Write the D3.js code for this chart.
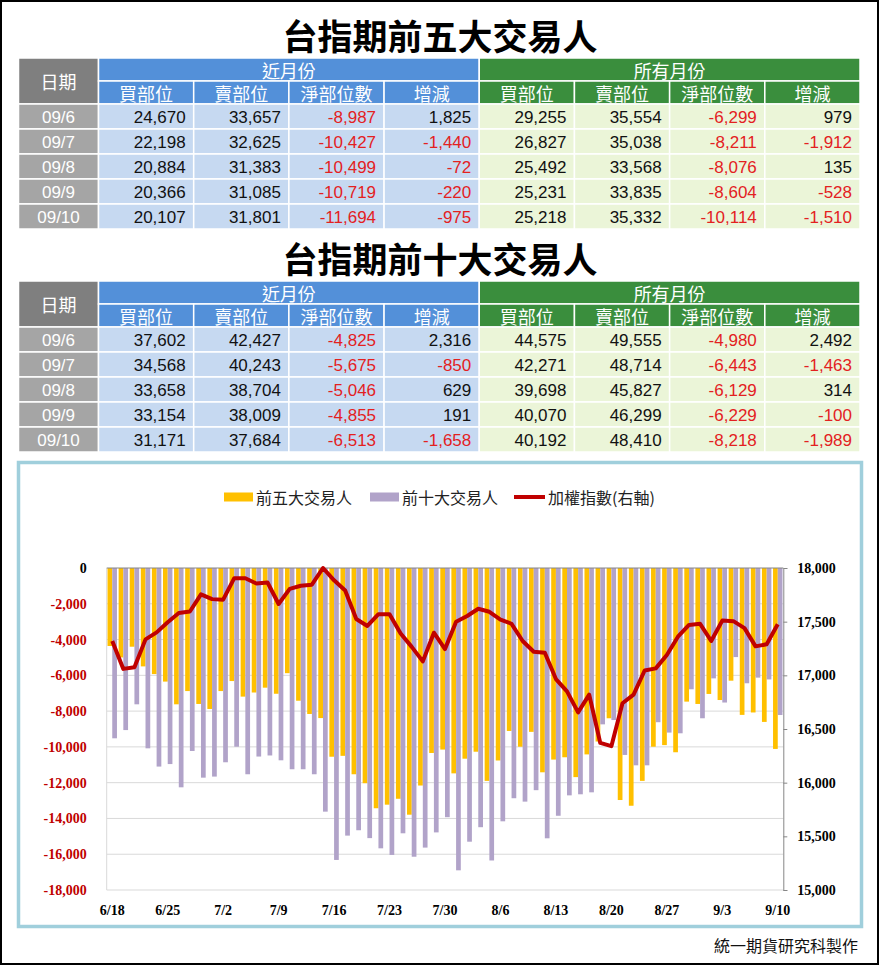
<!DOCTYPE html>
<html>
<head>
<meta charset="utf-8">
<script src="https://cdnjs.cloudflare.com/ajax/libs/d3/7.8.5/d3.min.js"></script>
<style>
  body { margin: 0; background: #fff; }
  svg { display: block; }
</style>
</head>
<body>
<div id="chart"></div>
<script>
// Table data
const tableDates = ['09/6', '09/7', '09/8', '09/9', '09/10'];
const colNames = ['買部位', '賣部位', '淨部位數', '增減'];
const top5Near = [
  [24670, 33657, -8987, 1825],
  [22198, 32625, -10427, -1440],
  [20884, 31383, -10499, -72],
  [20366, 31085, -10719, -220],
  [20107, 31801, -11694, -975]
];
const top5All = [
  [29255, 35554, -6299, 979],
  [26827, 35038, -8211, -1912],
  [25492, 33568, -8076, 135],
  [25231, 33835, -8604, -528],
  [25218, 35332, -10114, -1510]
];
const top10Near = [
  [37602, 42427, -4825, 2316],
  [34568, 40243, -5675, -850],
  [33658, 38704, -5046, 629],
  [33154, 38009, -4855, 191],
  [31171, 37684, -6513, -1658]
];
const top10All = [
  [44575, 49555, -4980, 2492],
  [42271, 48714, -6443, -1463],
  [39698, 45827, -6129, 314],
  [40070, 46299, -6229, -100],
  [40192, 48410, -8218, -1989]
];

// Chart data
const dates = ['6/18','6/21','6/22','6/23','6/24','6/25','6/28','6/29','6/30',
  '7/1','7/2','7/5','7/6','7/7','7/8','7/9','7/12','7/13','7/14','7/15','7/16',
  '7/19','7/20','7/21','7/22','7/23','7/26','7/27','7/28','7/29','7/30',
  '8/2','8/3','8/4','8/5','8/6','8/9','8/10','8/11','8/12','8/13','8/16','8/17',
  '8/18','8/19','8/20','8/23','8/24','8/25','8/26','8/27','8/30','8/31',
  '9/1','9/2','9/3','9/6','9/7','9/8','9/9','9/10'];
const top5Net = [-4360,-5000,-4400,-5500,-5930,-6350,-7620,-6880,-7600,-7880,
  -6880,-6320,-7190,-6960,-6690,-7030,-5880,-7420,-8160,-8390,
  -10550,-10500,-11530,-12030,-13430,-13230,-12900,-13790,-12160,-10340,
  -10150,-11480,-10660,-10270,-11900,-10760,-9110,-9990,-9160,-11420,
  -10710,-10580,-11690,-10420,-9700,-8400,-12970,-13290,-11900,-9990,
  -9900,-10300,-7470,-7600,-7040,-7380,-6299,-8211,-8076,-8604,-10114];
const top10Net = [-9520,-9060,-7620,-10080,-11100,-10960,-12260,-10230,-11720,-11660,
  -10860,-9990,-11530,-10540,-10480,-10750,-11250,-11250,-11530,-13620,
  -16320,-14960,-14660,-15100,-15670,-16040,-14830,-16140,-15630,-14780,
  -13930,-16900,-15300,-14490,-16350,-14160,-12870,-13060,-12420,-15110,
  -13850,-12710,-12650,-12540,-8740,-8500,-10450,-11030,-11030,-8620,
  -9200,-9240,-6780,-8400,-6170,-7520,-4980,-6443,-6129,-6229,-8218];
const taiex = [17320,17060,17075,17335,17400,17495,17580,17595,17755,17710,
  17705,17905,17905,17855,17865,17665,17805,17835,17845,18000,
  17885,17790,17525,17460,17570,17570,17390,17265,17130,17397,
  17245,17500,17553,17620,17592,17520,17480,17320,17220,17210,
  16965,16850,16655,16820,16370,16340,16740,16820,17045,17065,
  17190,17360,17470,17480,17320,17510,17505,17440,17270,17290,17475];
const seriesNames = ['前五大交易人', '前十大交易人', '加權指數(右軸)'];

const cjk = '"Noto Sans CJK TC", "Noto Sans CJK SC", sans-serif';
const serif = '"Liberation Serif", "Times New Roman", serif';
const fmt = v => (v < 0 ? '-' : '') + d3.format(',')(Math.abs(v));

var svg = d3.select('#chart').append('svg')
  .attr('width', 880)
  .attr('height', 966);

svg.append('rect')
  .attr('x', 1).attr('y', 1)
  .attr('width', 877).attr('height', 963)
  .attr('fill', '#fff')
  .attr('stroke', '#000')
  .attr('stroke-width', 2);

// ---------- tables ----------
const cols = d3.scaleBand().domain(d3.range(8)).range([98.5, 860]);

function drawTable(y0, title, near, all) {
  var g = svg.append('g');
  g.append('text')
    .attr('x', 440).attr('y', y0 - 24)
    .attr('text-anchor', 'middle')
    .attr('dominant-baseline', 'central')
    .style('font', 'bold 35px ' + cjk)
    .text(title);

  const h1 = 23, h2 = 23, rh = 25;
  const blue = '#5390d9', green = '#3a8e3d';

  function cell(x, y, w, h, fill) {
    g.append('rect').attr('x', x).attr('y', y).attr('width', w).attr('height', h)
      .attr('fill', fill).attr('stroke', '#fff').attr('stroke-width', 1.5);
  }
  function label(x, y, txt, anchor, font, color) {
    g.append('text').attr('x', x).attr('y', y)
      .attr('text-anchor', anchor)
      .attr('dominant-baseline', 'central')
      .style('font', font)
      .attr('fill', color)
      .text(txt);
  }

  // header
  cell(18.5, y0, 80, h1 + h2, '#7f7f7f');
  label(58.5, y0 + (h1 + h2) / 2, '日期', 'middle', '18px ' + cjk, '#fff');
  cell(cols(0), y0, cols.bandwidth() * 4, h1, blue);
  cell(cols(4), y0, cols.bandwidth() * 4, h1, green);
  label(cols(0) + cols.bandwidth() * 2, y0 + h1 / 2, '近月份', 'middle', '18px ' + cjk, '#fff');
  label(cols(4) + cols.bandwidth() * 2, y0 + h1 / 2, '所有月份', 'middle', '18px ' + cjk, '#fff');
  d3.range(8).forEach(function(i) {
    cell(cols(i), y0 + h1, cols.bandwidth(), h2, i < 4 ? blue : green);
    label(cols(i) + cols.bandwidth() / 2, y0 + h1 + h2 / 2, colNames[i % 4], 'middle', '18px ' + cjk, '#fff');
  });

  // rows
  tableDates.forEach(function(d, r) {
    var y = y0 + h1 + h2 + r * rh;
    cell(18.5, y, 80, rh, '#a5a5a5');
    label(58.5, y + rh / 2 + 1, d, 'middle', '17px "Liberation Sans", Arial, sans-serif', '#fff');
    var vals = near[r].concat(all[r]);
    vals.forEach(function(v, i) {
      cell(cols(i), y, cols.bandwidth(), rh, i < 4 ? '#c6d9f1' : '#ebf5d8');
      label(cols(i) + cols.bandwidth() - 8, y + rh / 2 + 1, fmt(v), 'end',
        '17px "Liberation Sans", Arial, sans-serif', v < 0 ? '#e3211f' : '#111');
    });
  });
}

drawTable(58, '台指期前五大交易人', top5Near, top5All);
drawTable(281, '台指期前十大交易人', top10Near, top10All);

// ---------- chart ----------
svg.append('rect')
  .attr('x', 18.5).attr('y', 462.5)
  .attr('width', 843).attr('height', 464)
  .attr('fill', '#fff')
  .attr('stroke', '#a0cfdc')
  .attr('stroke-width', 3.5);

const pLeft = 106.7, pRight = 783.3, pTop = 568, pBottom = 890;

var x0 = d3.scaleBand().domain(dates).range([pLeft, pRight])
  .paddingInner(0.15).paddingOuter(0.075);
var x1 = d3.scaleBand().domain(['t5', 't10']).range([0, x0.bandwidth()]);
var yL = d3.scaleLinear().domain([-18000, 0]).range([pBottom, pTop]);
var yR = d3.scaleLinear().domain([15000, 18000]).range([pBottom, pTop]);

var plot = svg.append('g');

// gridlines
plot.selectAll('.grid')
  .data(d3.range(-18000, 0, 2000))
  .enter().append('line')
  .attr('x1', pLeft).attr('x2', pRight)
  .attr('y1', d => yL(d)).attr('y2', d => yL(d))
  .attr('stroke', '#d9d9d9').attr('stroke-width', 1);
plot.append('line')
  .attr('x1', pLeft).attr('x2', pLeft)
  .attr('y1', pTop).attr('y2', pBottom)
  .attr('stroke', '#d9d9d9');

// bars
var cat = plot.selectAll('.cat')
  .data(dates)
  .enter().append('g')
  .attr('transform', d => 'translate(' + x0(d) + ',0)');
cat.append('rect')
  .attr('x', x1('t5'))
  .attr('y', yL(0))
  .attr('width', x1.bandwidth())
  .attr('height', (d, i) => yL(top5Net[i]) - yL(0))
  .attr('fill', '#ffc000');
cat.append('rect')
  .attr('x', x1('t10'))
  .attr('y', yL(0))
  .attr('width', x1.bandwidth())
  .attr('height', (d, i) => yL(top10Net[i]) - yL(0))
  .attr('fill', '#b1a3c9');

// zero line
plot.append('line')
  .attr('x1', pLeft).attr('x2', pRight)
  .attr('y1', yL(0)).attr('y2', yL(0))
  .attr('stroke', '#868686');

// index line
var line = d3.line()
  .x((d, i) => x0(dates[i]) + x0.bandwidth() / 2)
  .y(d => yR(d));
plot.append('path')
  .datum(taiex)
  .attr('d', line)
  .attr('fill', 'none')
  .attr('stroke', '#c00000')
  .attr('stroke-width', 4)
  .attr('stroke-linejoin', 'round');

// left axis
var gl = svg.append('g')
  .attr('transform', 'translate(' + pLeft + ',0)')
  .call(d3.axisLeft(yL).tickValues(d3.range(-18000, 1, 2000)).tickSize(0).tickPadding(20).tickFormat(fmt));
gl.select('.domain').remove();
gl.selectAll('text')
  .style('font', 'bold 14px ' + serif)
  .attr('fill', d => d < 0 ? '#c00000' : '#000');

// right axis
var gr = svg.append('g')
  .attr('transform', 'translate(' + pRight + ',0)')
  .call(d3.axisRight(yR).tickValues(d3.range(15000, 18001, 500)).tickSize(4).tickPadding(10).tickFormat(fmt));
gr.select('.domain').attr('stroke', '#868686');
gr.selectAll('line').attr('stroke', '#868686');
gr.selectAll('text')
  .style('font', 'bold 14px ' + serif)
  .attr('fill', '#000');

// x axis
var gx = svg.append('g')
  .attr('transform', 'translate(0,' + pBottom + ')')
  .call(d3.axisBottom(x0).tickValues(dates.filter((d, i) => i % 5 === 0)).tickSize(0).tickPadding(15));
gx.select('.domain').remove();
gx.selectAll('text')
  .style('font', 'bold 14px ' + serif)
  .attr('fill', '#000');

// legend
var legend = svg.append('g').attr('transform', 'translate(0,497)');
legend.append('rect').attr('x', 224).attr('y', -4.5).attr('width', 29).attr('height', 9).attr('fill', '#ffc000');
legend.append('rect').attr('x', 370).attr('y', -4.5).attr('width', 29).attr('height', 9).attr('fill', '#b1a3c9');
legend.append('line').attr('x1', 514).attr('x2', 545).attr('y1', 0).attr('y2', 0)
  .attr('stroke', '#c00000').attr('stroke-width', 4);
[[256, 0], [402, 1], [548, 2]].forEach(function(p) {
  legend.append('text')
    .attr('x', p[0]).attr('y', 0)
    .attr('dominant-baseline', 'central')
    .style('font', '16px ' + cjk)
    .attr('fill', '#222')
    .text(seriesNames[p[1]]);
});

// footer
svg.append('text')
  .attr('x', 858).attr('y', 945)
  .attr('text-anchor', 'end')
  .attr('dominant-baseline', 'central')
  .style('font', '16px ' + cjk)
  .attr('fill', '#111')
  .text('統一期貨研究科製作');
</script>
</body>
</html>
